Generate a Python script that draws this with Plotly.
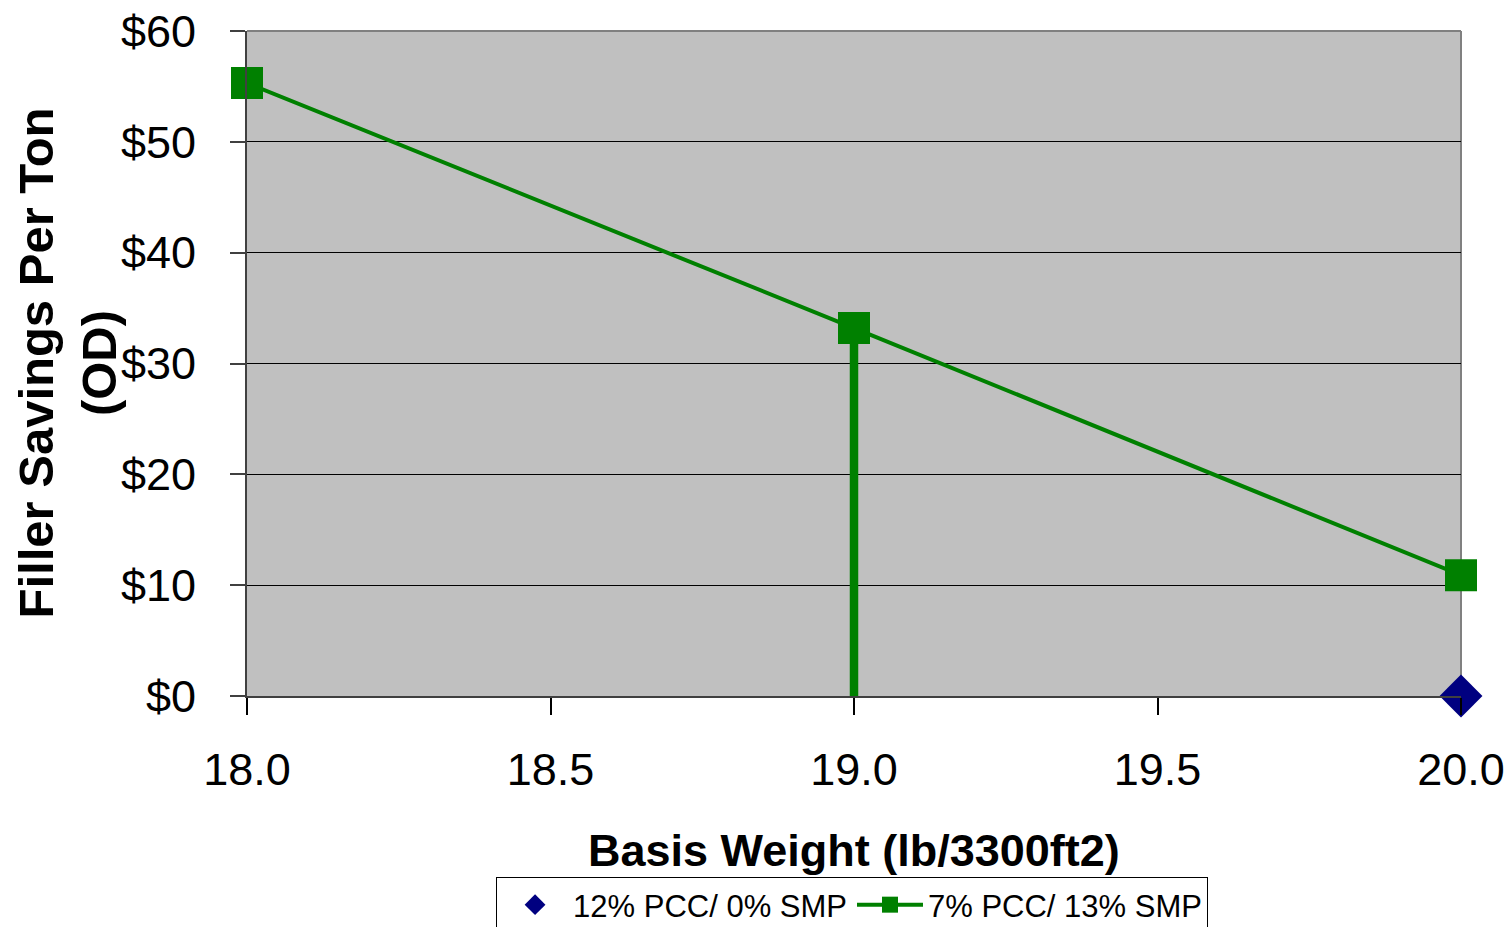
import plotly.graph_objects as go

# Basis weight (lb/3300ft2) and filler savings per ton (OD), in dollars
pcc12_x = [20.0]
pcc12_y = [0.0]

pcc7_x = [18.0, 19.0, 20.0]
pcc7_y = [55.3, 33.2, 10.9]

# Drop line marking the 19.0 lb basis weight (top and bottom values)
drop_x = [19.0]
drop_top = [33.2]
drop_bottom = [-0.6]

y_ticks = [0, 10, 20, 30, 40, 50, 60]
y_tick_text = ["$0", "$10", "$20", "$30", "$40", "$50", "$60"]
x_ticks = [18.0, 18.5, 19.0, 19.5, 20.0]
x_tick_text = ["18.0", "18.5", "19.0", "19.5", "20.0"]

FONT = "Liberation Sans, Arial, sans-serif"
GREEN = "#008000"
NAVY = "#000080"

fig = go.Figure()

# vertical drop line, drawn as a one-sided error bar below the 19.0 point
fig.add_trace(go.Scatter(
    x=drop_x, y=drop_top, mode="markers",
    marker=dict(size=1, color="rgba(0,0,0,0)"),
    error_y=dict(
        type="data", symmetric=False,
        array=[0 for _ in drop_top],
        arrayminus=[t - b for t, b in zip(drop_top, drop_bottom)],
        width=0, thickness=8.5, color=GREEN,
    ),
    showlegend=False, cliponaxis=False, hoverinfo="skip",
))

fig.add_trace(go.Scatter(
    x=pcc12_x, y=pcc12_y, mode="markers",
    name="12% PCC/ 0% SMP",
    marker=dict(symbol="diamond", size=33, color=NAVY),
    cliponaxis=False,
))

fig.add_trace(go.Scatter(
    x=pcc7_x, y=pcc7_y, mode="lines+markers",
    name="7% PCC/ 13% SMP",
    line=dict(color=GREEN, width=4),
    marker=dict(symbol="square", size=32, color=GREEN),
    cliponaxis=False,
))

fig.update_layout(
    width=1512, height=927,
    margin=dict(l=247, r=51, t=31, b=231, autoexpand=False),
    paper_bgcolor="white",
    plot_bgcolor="#C0C0C0",
    font=dict(family=FONT, color="black"),
    showlegend=True,
    legend=dict(
        orientation="h",
        x=0.4984, xanchor="center",
        y=-0.2722, yanchor="top",
        font=dict(size=31, family=FONT),
        bgcolor="white", bordercolor="black", borderwidth=1,
        itemwidth=66,
        traceorder="normal",
    ),
    xaxis=dict(
        range=[18.0, 20.0],
        tickvals=x_ticks, ticktext=x_tick_text,
        ticks="outside", ticklen=17, tickwidth=2, tickcolor="black",
        tickfont=dict(size=45, family=FONT),
        ticklabelstandoff=16,
        showgrid=False, zeroline=False,
        showline=True, linecolor="#404040", linewidth=2,
    ),
    yaxis=dict(
        range=[0, 60],
        tickvals=y_ticks, ticktext=y_tick_text,
        ticks="outside", ticklen=15, tickwidth=2, tickcolor="#404040",
        tickfont=dict(size=45, family=FONT),
        ticklabelstandoff=25,
        showgrid=True, gridcolor="black", gridwidth=1,
        zeroline=False,
        showline=True, linecolor="#404040", linewidth=2,
    ),
    shapes=[
        dict(type="line", xref="paper", yref="paper", x0=0, x1=1, y0=1, y1=1,
             line=dict(color="#808080", width=2), layer="above"),
        dict(type="line", xref="paper", yref="paper", x0=1, x1=1, y0=0, y1=1,
             line=dict(color="#808080", width=2), layer="below"),
    ],
    annotations=[
        dict(
            text="<b>Basis Weight (lb/3300ft2)</b>",
            xref="paper", yref="paper", x=0.5, y=-0.232,
            xanchor="center", yanchor="middle", showarrow=False,
            font=dict(size=45, family=FONT),
        ),
        dict(
            text="<b>Filler Savings Per Ton<br>(OD)</b>",
            xref="paper", yref="paper", x=0, y=0.5,
            xanchor="center", yanchor="middle", showarrow=False,
            xshift=-180, textangle=-90,
            font=dict(size=49, family=FONT),
        ),
    ],
)

fig.write_html("out.html")
